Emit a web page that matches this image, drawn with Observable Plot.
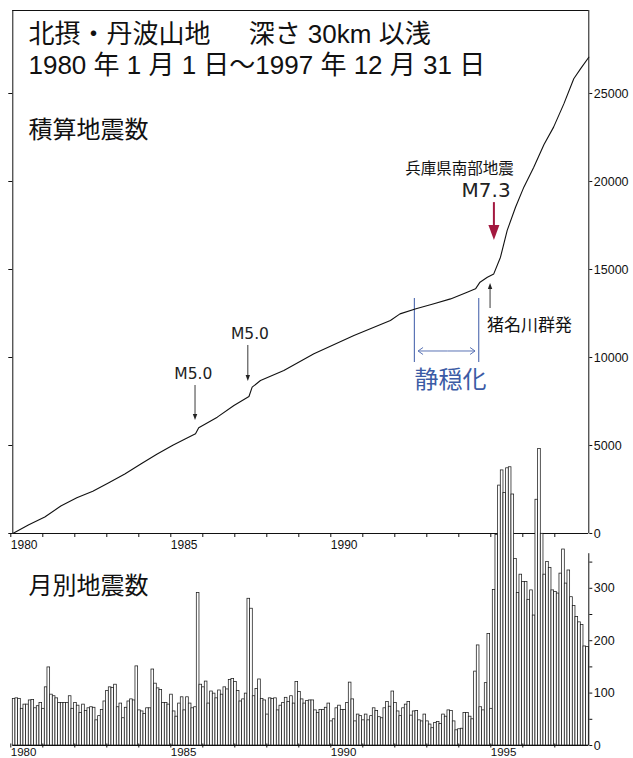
<!DOCTYPE html>
<html><head><meta charset="utf-8">
<script src="https://cdn.jsdelivr.net/npm/d3@7"></script>
<script src="https://cdn.jsdelivr.net/npm/@observablehq/plot@0.6"></script>
<style>
body{margin:0;background:#fff;}
#wrap{position:relative;width:633px;height:758px;overflow:hidden;background:#fff;}
#wrap svg{position:absolute;left:0;background:transparent !important;}
</style></head><body><div id="wrap"></div>
<script>
// ---------- monthly earthquake counts (月別地震数) ----------
const m1980 = [89, 90, 89, 70, 78, 78, 86, 87, 71, 75, 81, 70];
const m1981 = [111, 149, 97, 94, 90, 81, 81, 81, 81, 94, 70, 81];
const m1982 = [76, 62, 78, 66, 71, 73, 72, 48, 56, 68, 84, 104];
const m1983 = [111, 110, 116, 73, 80, 52, 72, 84, 88, 86, 151, 67];
const m1984 = [65, 60, 71, 71, 145, 118, 109, 106, 81, 81, 78, 97];
const m1985 = [65, 55, 80, 92, 67, 92, 80, 71, 73, 291, 116, 111];
const m1986 = [122, 80, 103, 99, 90, 105, 97, 111, 107, 125, 127, 121];
const m1987 = [104, 84, 88, 99, 280, 261, 94, 108, 126, 89, 86, 59];
const m1988 = [90, 89, 90, 67, 76, 81, 91, 83, 94, 80, 121, 102];
const m1989 = [88, 80, 85, 86, 86, 67, 62, 68, 68, 72, 80, 46];
const m1990 = [50, 71, 76, 68, 68, 81, 120, 88, 46, 59, 56, 48];
const m1991 = [59, 48, 56, 71, 66, 54, 52, 71, 83, 74, 103, 81];
const m1992 = [65, 56, 71, 78, 83, 57, 65, 66, 48, 46, 59, 46];
const m1993 = [40, 33, 43, 45, 41, 59, 55, 67, 66, 46, 29, 31];
const m1994 = [32, 62, 62, 55, 50, 141, 191, 73, 67, 119, 213, 70];
const m1995 = [297, 402, 496, 525, 482, 529, 531, 479, 356, 291, 326, 312];
const m1996 = [312, 278, 296, 248, 469, 566, 404, 326, 350, 339, 296, 293];
const m1997 = [290, 328, 374, 309, 334, 283, 266, 245, 235, 230, 189, 188];

// ---------- cumulative count (積算地震数) ----------
const cumTime = [1980.0, 1980.5, 1981.0, 1981.5, 1982.0, 1982.5, 1983.0, 1983.5, 1984.0, 1984.5,
  1985.0, 1985.4, 1985.71, 1985.81, 1986.39, 1986.91, 1987.38, 1987.48, 1987.74, 1988.47,
  1989.41, 1990.66, 1991.8, 1992.1, 1992.6, 1993.16, 1993.68, 1994.2, 1994.46, 1994.6,
  1994.83, 1995.03, 1995.24, 1995.45, 1995.71, 1995.97, 1996.28, 1996.6, 1996.9, 1997.22,
  1997.53, 1997.74, 1998.0];
const cumCount = [0, 500, 940, 1560, 2030, 2400, 2880, 3380, 3950, 4500,
  5020, 5381, 5665, 6006, 6610, 7273, 7784, 8313, 8693, 9261,
  10210, 11250, 12100, 12480, 12770, 13050, 13330, 13710, 13900, 14280,
  14560, 14750, 15700, 17220, 18540, 19680, 20810, 22100, 23090, 24410,
  25840, 26400, 27060];

// ---------- axis ticks ----------
const years = d3.range(1980, 1998);
const labelYearsTop = [1980, 1985, 1990];
const labelYearsBottom = [1980, 1985, 1990, 1995];
const cumTicks = [0, 5000, 10000, 15000, 20000, 25000];
const monthTicks = [0, 50, 100, 150, 200, 250, 300, 350];
const monthLabels = [0, 100, 200, 300];

// ---------- texts ----------
const title1a = "北摂・丹波山地";
const title1b = "深さ 30km 以浅";
const title2 = "1980 年 1 月 1 日～1997 年 12 月 31 日";
const cumLabel = "積算地震数";
const monthLabel = "月別地震数";

const monthlyByYear = [m1980, m1981, m1982, m1983, m1984, m1985, m1986, m1987, m1988,
  m1989, m1990, m1991, m1992, m1993, m1994, m1995, m1996, m1997];
const monthly = monthlyByYear.flatMap((arr, k) =>
  arr.map((v, i) => ({t0: years[k] + i / 12, t1: years[k] + (i + 1) / 12, v})));
const cum = cumTime.map((t, i) => ({t, v: cumCount[i]}));

const JP = "'Noto Sans CJK JP', sans-serif";
const MIX = "'Liberation Sans', 'Noto Sans CJK JP', sans-serif";
const LAT = "'DejaVu Sans', sans-serif";

// annotation positions (data coordinates of the top panel)
const titleNotes = [
  {x: 1980.49, y: 28350, t: title1a},
  {x: 1987.37, y: 28350, t: title1b},
  {x: 1980.49, y: 26600, t: title2}
];
const jpNotes = [
  {x: 1993.96, y: 20700, t: "兵庫県南部地震", size: 15.5},
  {x: 1996.15, y: 11800, t: "猪名川群発", size: 17}
];
const magNotes = [
  {x: 1994.79, y: 19500, t: "M7.3", size: 20},
  {x: 1985.64, y: 9050, t: "M5.0", size: 15.5},
  {x: 1987.41, y: 11320, t: "M5.0", size: 15.5}
];
const quietNote = [{x: 1993.68, y: 8700, t: "静穏化"}];
const arrowsTop = [
  {x1: 1995.05, y1: 18800, x2: 1995.05, y2: 16650, color: "#a3183f", w: 2, hw: 5.5, hl: 15, fill: true},
  {x1: 1994.93, y1: 12784, x2: 1994.93, y2: 14205, color: "#222", w: 0.9, hw: 2.2, hl: 6, fill: true},
  {x1: 1985.71, y1: 8409, x2: 1985.71, y2: 6420, color: "#222", w: 0.9, hw: 2.2, hl: 6, fill: true},
  {x1: 1987.36, y1: 10682, x2: 1987.36, y2: 8636, color: "#222", w: 0.9, hw: 2.2, hl: 6, fill: true},
  {x1: 1993.6, y1: 10341, x2: 1994.46, y2: 10341, color: "#5b74b5", w: 1, hw: 3.5, hl: 5, fill: false},
  {x1: 1993.6, y1: 10341, x2: 1992.68, y2: 10341, color: "#5b74b5", w: 1, hw: 3.5, hl: 5, fill: false}
];
const quietEdges = [1992.55, 1994.56];

function arrowMark(list) {
  return (index, scales) => {
    const g = d3.create("svg:g");
    for (const a of list) {
      const x1 = scales.x(a.x1), y1 = scales.y(a.y1), x2 = scales.x(a.x2), y2 = scales.y(a.y2);
      const len = Math.hypot(x2 - x1, y2 - y1), ux = (x2 - x1) / len, uy = (y2 - y1) / len;
      const bx = x2 - ux * a.hl, by = y2 - uy * a.hl;
      const px = -uy, py = ux;
      g.append("line").attr("x1", x1).attr("y1", y1)
        .attr("x2", a.fill ? bx + ux * 1 : x2).attr("y2", a.fill ? by + uy * 1 : y2)
        .attr("stroke", a.color).attr("stroke-width", a.w);
      const pts = [[bx + px * a.hw, by + py * a.hw], [x2, y2], [bx - px * a.hw, by - py * a.hw]];
      if (a.fill) {
        g.append("path").attr("d", `M${pts[0]}L${pts[1]}L${pts[2]}Z`).attr("fill", a.color);
      } else {
        g.append("path").attr("d", `M${pts[0]}L${pts[1]}L${pts[2]}`).attr("fill", "none")
          .attr("stroke", a.color).attr("stroke-width", a.w);
      }
    }
    return g.node();
  };
}

const YTOP = 29716;
const topChart = Plot.plot({
  width: 633, height: 560,
  marginLeft: 12.3, marginRight: 44.7, marginTop: 10, marginBottom: 27,
  x: {domain: [1980, 1998], axis: null},
  y: {domain: [0, YTOP], axis: null},
  style: {background: "transparent", fontFamily: "'Liberation Sans', Arial, sans-serif", color: "#111"},
  marks: [
    Plot.ruleY([YTOP], {stroke: "#111", strokeWidth: 1}),
    Plot.ruleX([1980, 1998], {stroke: "#111", strokeWidth: 1}),
    Plot.ruleY([0], {stroke: "#111", strokeWidth: 1}),
    Plot.axisX({ticks: years, tickSize: 4, tickPadding: 3,
      tickFormat: d => labelYearsTop.includes(d) ? String(d) : "",
      textAnchor: "start", dx: -2, fontSize: 12, label: null}),
    Plot.axisY({anchor: "right", ticks: cumTicks, tickSize: 3, tickPadding: 2,
      tickFormat: d => String(d), fontSize: 12.5, label: null}),
    Plot.axisY({anchor: "left", ticks: cumTicks, tickSize: 4, tickFormat: () => "", label: null}),
    Plot.ruleX(quietEdges, {y1: 9716, y2: 13352, stroke: "#5b74b5", strokeWidth: 1.2}),
    Plot.line(cum, {x: "t", y: "v", stroke: "#111", strokeWidth: 1.1}),
    arrowMark(arrowsTop),
    Plot.text(titleNotes, {x: "x", y: "y", text: "t", fontSize: 26, fontFamily: MIX,
      textAnchor: "start", fill: "#111"}),
    Plot.text([cumLabel], {x: 1980.49, y: 22900, text: d => d, fontSize: 24, fontFamily: JP,
      textAnchor: "start", fill: "#111"}),
    Plot.text(jpNotes, {x: "x", y: "y", text: "t", fontSize: "size", fontFamily: JP,
      textAnchor: "middle", fill: "#111"}),
    Plot.text(magNotes, {x: "x", y: "y", text: "t", fontSize: "size", fontFamily: LAT,
      textAnchor: "middle", fill: "#222"}),
    Plot.text(quietNote, {x: "x", y: "y", text: "t", fontSize: 24, fontFamily: JP,
      textAnchor: "middle", fill: "#3b5ba5"})
  ]
});
topChart.style.top = "0px";

const YB = 658.4;
const bottomChart = Plot.plot({
  width: 633, height: 380,
  marginLeft: 12.3, marginRight: 44.7, marginTop: 0, marginBottom: 35,
  x: {domain: [1980, 1998], axis: null},
  y: {domain: [0, YB], axis: null},
  style: {background: "transparent", fontFamily: "'Liberation Sans', Arial, sans-serif", color: "#111"},
  marks: [
    Plot.text([monthLabel], {x: 1980.49, y: 303, text: d => d, fontSize: 24, fontFamily: JP,
      textAnchor: "start", fill: "#111"}),
    Plot.rect(monthly, {x1: "t0", x2: "t1", y1: 0, y2: "v", fill: "white", stroke: "#1a1a1a", strokeWidth: 0.75}),
    Plot.ruleY([0], {stroke: "#111"}),
    Plot.ruleX([1998], {y1: 0, y2: 366, stroke: "#111"}),
    Plot.axisX({ticks: years, tickSize: 4, tickPadding: 0, dy: -1.5,
      tickFormat: d => labelYearsBottom.includes(d) ? String(d) : "",
      textAnchor: "start", dx: -2, fontSize: 11.5, label: null}),
    Plot.axisY({anchor: "right", ticks: monthTicks, tickSize: 3, tickPadding: 2,
      tickFormat: d => monthLabels.includes(d) ? String(d) : "", fontSize: 12.5, label: null})
  ]
});
bottomChart.style.top = "400px";

const wrap = document.getElementById("wrap");
wrap.appendChild(topChart);
wrap.appendChild(bottomChart);
</script></body></html>
